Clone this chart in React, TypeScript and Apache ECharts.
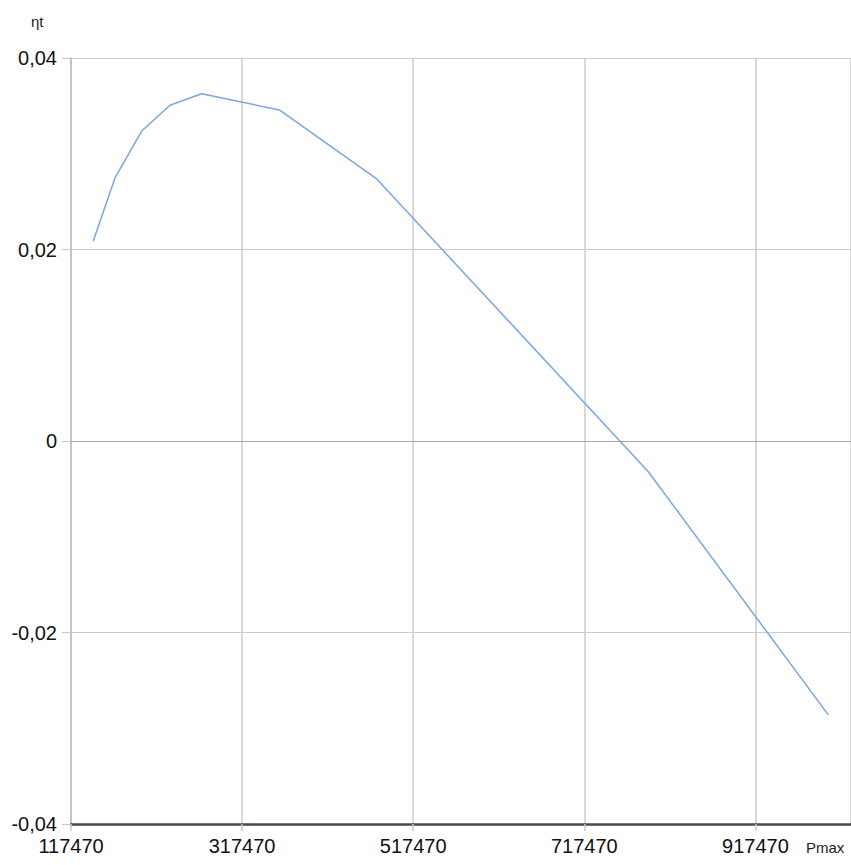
import React, { useEffect, useRef } from "react";
import * as echarts from "echarts";

// Data
const pmaxValues = [143500, 168900, 200100, 233200, 270200, 361000, 474800, 792300, 1002700];
const etaValues = [0.0209, 0.0275, 0.0324, 0.0351, 0.0363, 0.0346, 0.0274, -0.0032, -0.0286];
const xTickStart = 117470;
const xTickStep = 200000;
const xAxisMax = 1029200;
const yMin = -0.04;
const yMax = 0.04;
const yStep = 0.02;
const xAxisTitle = "Pmax";
const yAxisTitle = "ηt";

const FONT = "'Liberation Sans', Arial, sans-serif";

export default function App() {
  const ref = useRef<HTMLDivElement>(null);
  useEffect(() => {
    if (!ref.current) return;
    const chart = echarts.init(ref.current, null, { renderer: "svg" });
    const data = pmaxValues.map((x, i) => [x, etaValues[i]]);
    chart.setOption({
      animation: false,
      backgroundColor: "#ffffff",
      grid: { left: 71, right: 0, top: 58.3, bottom: 41, containLabel: false },
      xAxis: {
        type: "value",
        min: xTickStart,
        max: xAxisMax,
        interval: xTickStep,
        axisLine: { show: true, onZero: false, lineStyle: { color: "#4a4a4a", width: 2.5 } },
        axisTick: { show: true, length: 7, lineStyle: { color: "#c8c8c8", width: 1.5 } },
        splitLine: { show: true, lineStyle: { color: "#cccccc", width: 1.5 } },
        axisLabel: {
          show: true,
          showMaxLabel: false,
          margin: 12,
          color: "#111111",
          fontFamily: FONT,
          fontSize: 20,
          formatter: (v: number) => String(Math.round(v)),
        },
      },
      yAxis: {
        type: "value",
        min: yMin,
        max: yMax,
        interval: yStep,
        axisLine: { show: true, onZero: false, lineStyle: { color: "#c4c4c4", width: 2 } },
        axisTick: { show: true, length: 9, lineStyle: { color: "#c8c8c8", width: 1 } },
        splitLine: { show: true, lineStyle: { color: "#cccccc", width: 1 } },
        axisLabel: {
          show: true,
          margin: 14,
          color: "#111111",
          fontFamily: FONT,
          fontSize: 20,
          formatter: (v: number) => {
            const r = Math.round(v * 100) / 100;
            if (Math.abs(r) < 1e-9) return "0";
            return r.toFixed(2).replace(".", ",");
          },
        },
      },
      series: [
        {
          type: "line",
          data,
          showSymbol: false,
          symbol: "none",
          lineStyle: { color: "#79a6e3", width: 1.5 },
          markLine: {
            silent: true,
            symbol: "none",
            label: { show: false },
            lineStyle: { color: "#a8a8a8", width: 1, type: "solid" },
            data: [{ yAxis: 0 }],
          },
        },
      ],
      graphic: [
        {
          type: "text",
          left: 31,
          top: 14,
          style: { text: yAxisTitle, font: `15px ${FONT}`, fill: "#222222" },
        },
        {
          type: "text",
          left: 806,
          top: 840,
          style: { text: xAxisTitle, font: `15px ${FONT}`, fill: "#222222" },
        },
      ],
    });
    return () => chart.dispose();
  }, []);
  return (
    <div
      ref={ref}
      style={{ position: "fixed", left: 0, top: 0, width: 851, height: 865, background: "#fff" }}
    />
  );
}
